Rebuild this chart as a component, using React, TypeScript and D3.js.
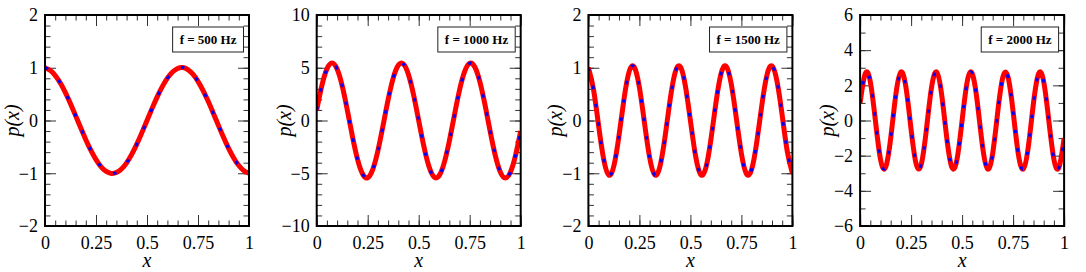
import React, { useEffect, useRef } from 'react';
import * as d3 from 'd3';

// sample positions along the duct (x from 0 to 1)
const xValues = [
  0, 0.025, 0.05, 0.075, 0.1, 0.125, 0.15, 0.175, 0.2, 0.225,
  0.25, 0.275, 0.3, 0.325, 0.35, 0.375, 0.4, 0.425, 0.45, 0.475,
  0.5, 0.525, 0.55, 0.575, 0.6, 0.625, 0.65, 0.675, 0.7, 0.725,
  0.75, 0.775, 0.8, 0.825, 0.85, 0.875, 0.9, 0.925, 0.95, 0.975, 1,
];

// p(x)
const p500 = [
  1.0, 0.952, 0.854, 0.71, 0.529, 0.319, 0.093, -0.139, -0.363, -0.567,
  -0.742, -0.877, -0.966, -1.003, -0.987, -0.919, -0.802, -0.642, -0.448, -0.23,
  0.0, 0.23, 0.448, 0.642, 0.802, 0.919, 0.987, 1.003, 0.966, 0.877,
  0.742, 0.567, 0.363, 0.139, -0.093, -0.319, -0.529, -0.71, -0.854, -0.952, -1.0,
];
const p1000 = [
  1.0, 3.28, 4.872, 5.442, 4.872, 3.28, 1.0, -1.489, -3.666, -5.075,
  -5.419, -4.627, -2.865, -0.502, 1.966, 4.022, 5.235, 5.35, 4.343, 2.426,
  0.0, -2.426, -4.343, -5.35, -5.235, -4.022, -1.966, 0.502, 2.865, 4.627,
  5.419, 5.075, 3.666, 1.489, -1.0, -3.28, -4.872, -5.442, -4.872, -3.28, -1.0,
];
const p1500 = [
  1.0, 0.588, -0.096, -0.735, -1.035, -0.858, -0.285, 0.42, 0.931, 1.012,
  0.627, -0.048, -0.7, -1.03, -0.884, -0.33, 0.376, 0.908, 1.022, 0.664,
  0.0, -0.664, -1.022, -0.908, -0.376, 0.33, 0.884, 1.03, 0.7, 0.048,
  -0.627, -1.012, -0.931, -0.42, 0.285, 0.858, 1.035, 0.735, 0.096, -0.588, -1.0,
];
const p2000 = [
  1.0, 2.663, 2.209, 0.0, -2.209, -2.663, -1.0, 1.457, 2.756, 1.865,
  -0.509, -2.478, -2.478, -0.509, 1.865, 2.756, 1.457, -1.0, -2.663, -2.209,
  0.0, 2.209, 2.663, 1.0, -1.457, -2.756, -1.865, 0.509, 2.478, 2.478,
  0.509, -1.865, -2.756, -1.457, 1.0, 2.663, 2.209, 0.0, -2.209, -2.663, -1.0,
];

const series = [p500, p1000, p1500, p2000];
const legendLabels = ['f = 500 Hz', 'f = 1000 Hz', 'f = 1500 Hz', 'f = 2000 Hz'];
const yDomains = [[-2, 2], [-10, 10], [-2, 2], [-6, 6]];
const yMajorTicks = [
  [-2, -1, 0, 1, 2],
  [-10, -5, 0, 5, 10],
  [-2, -1, 0, 1, 2],
  [-6, -4, -2, 0, 2, 4, 6],
];
const yMinorCounts = [20, 20, 20, 12];
const xMajorTicks = [0, 0.25, 0.5, 0.75, 1];
const xMinorCount = 20;

const W = 1086;
const H = 272;
const FONT = '"Liberation Serif", "DejaVu Serif", "Noto Serif", "Times New Roman", Times, "Nimbus Roman", FreeSerif, serif';

export default function App() {
  const svgRef = useRef<SVGSVGElement>(null);

  useEffect(() => {
    if (!svgRef.current) return;
    const svg = d3.select(svgRef.current);
    svg.selectAll('*').remove();

    const firstLeft = 45;
    const step = 271.7;
    const plotW = 204;
    const top = 15;
    const bottom = 226;
    const fmt = (d: d3.NumberValue) => String(d).replace('-', '\u2212');

    series.forEach((values, i) => {
      const g = svg.append('g').attr('transform', `translate(${firstLeft + i * step},0)`);
      const x = d3.scaleLinear().domain([0, 1]).range([0, plotW]);
      const y = d3.scaleLinear().domain(yDomains[i]).range([bottom, top]);
      const xMinor = d3.ticks(0, 1, xMinorCount);
      const yMinor = d3.ticks(yDomains[i][0], yDomains[i][1], yMinorCounts[i]);

      const styleAxis = (sel: d3.Selection<SVGGElement, unknown, null, undefined>) => {
        sel.select('.domain').remove();
        sel.attr('font-family', null).attr('font-size', null);
        sel.selectAll('line').attr('stroke', '#333').attr('stroke-width', 1);
        sel.selectAll('text')
          .style('font-family', FONT)
          .style('font-size', '18px')
          .attr('fill', '#000');
      };

      // minor ticks on all four sides
      g.append('g').attr('transform', `translate(0,${bottom})`)
        .call(d3.axisBottom(x).tickValues(xMinor).tickSize(-5.5).tickFormat(() => ''))
        .call(styleAxis);
      g.append('g').attr('transform', `translate(0,${top})`)
        .call(d3.axisTop(x).tickValues(xMinor).tickSize(-5.5).tickFormat(() => ''))
        .call(styleAxis);
      g.append('g')
        .call(d3.axisLeft(y).tickValues(yMinor).tickSize(-5.5).tickFormat(() => ''))
        .call(styleAxis);
      g.append('g').attr('transform', `translate(${plotW},0)`)
        .call(d3.axisRight(y).tickValues(yMinor).tickSize(-5.5).tickFormat(() => ''))
        .call(styleAxis);

      // major ticks
      g.append('g').attr('transform', `translate(0,${bottom})`)
        .call(d3.axisBottom(x).tickValues(xMajorTicks).tickSizeInner(-11).tickSizeOuter(0).tickPadding(10).tickFormat(fmt))
        .call(styleAxis);
      g.append('g').attr('transform', `translate(0,${top})`)
        .call(d3.axisTop(x).tickValues(xMajorTicks).tickSize(-11).tickFormat(() => ''))
        .call(styleAxis);
      g.append('g')
        .call(d3.axisLeft(y).tickValues(yMajorTicks[i]).tickSizeInner(-11).tickSizeOuter(0).tickPadding(7).tickFormat(fmt))
        .call(styleAxis);
      g.append('g').attr('transform', `translate(${plotW},0)`)
        .call(d3.axisRight(y).tickValues(yMajorTicks[i]).tickSize(-11).tickFormat(() => ''))
        .call(styleAxis);

      // curves
      const clipId = `clip-${i}`;
      g.append('defs').append('clipPath').attr('id', clipId)
        .append('rect')
        .attr('x', 0)
        .attr('y', top)
        .attr('width', plotW)
        .attr('height', bottom - top);

      const line = d3.line<number>()
        .x((_, j) => x(xValues[j]))
        .y((d) => y(d))
        .curve(d3.curveNatural);

      const curves = g.append('g').attr('clip-path', `url(#${clipId})`);
      curves.append('path')
        .attr('d', line(values))
        .attr('fill', 'none')
        .attr('stroke', '#ff0000')
        .attr('stroke-width', 5);
      curves.append('path')
        .attr('d', line(values))
        .attr('fill', 'none')
        .attr('stroke', '#0000ff')
        .attr('stroke-width', 3)
        .attr('stroke-dasharray', '3.5 15');

      // frame
      g.append('rect')
        .attr('x', 0)
        .attr('y', top)
        .attr('width', plotW)
        .attr('height', bottom - top)
        .attr('fill', 'none')
        .attr('stroke', '#000')
        .attr('stroke-width', 2);

      // legend
      const legendRight = plotW - 5.5;
      const legendTop = 27;
      const box = g.append('rect')
        .attr('y', legendTop)
        .attr('height', 25)
        .attr('fill', '#fff')
        .attr('stroke', '#222')
        .attr('stroke-width', 1);
      const label = g.append('text')
        .attr('x', legendRight - 7)
        .attr('y', legendTop + 17)
        .attr('text-anchor', 'end')
        .style('font-family', FONT)
        .style('font-weight', 'bold')
        .style('font-size', '13px')
        .attr('fill', '#000')
        .text(legendLabels[i]);
      const tw = (label.node() as SVGTextElement).getComputedTextLength();
      box.attr('x', legendRight - tw - 14).attr('width', tw + 14);

      // axis titles
      g.append('text')
        .attr('x', plotW / 2)
        .attr('y', 267)
        .attr('text-anchor', 'middle')
        .style('font-family', FONT)
        .style('font-style', 'italic')
        .style('font-size', '20px')
        .text('x');
      g.append('text')
        .attr('transform', `translate(-26,${(top + bottom) / 2}) rotate(-90)`)
        .attr('text-anchor', 'middle')
        .style('font-family', FONT)
        .style('font-style', 'italic')
        .style('font-size', '20px')
        .text('p(x)');
    });
  }, []);

  return (
    <svg
      ref={svgRef}
      width={W}
      height={H}
      style={{ position: 'absolute', left: 0, top: 0, background: '#fff' }}
    />
  );
}
